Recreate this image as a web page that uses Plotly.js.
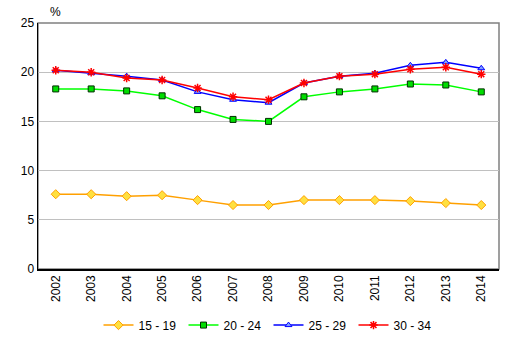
<!DOCTYPE html>
<html><head><meta charset="utf-8">
<script src="https://cdn.plot.ly/plotly-3.0.1.min.js"></script>
<style>html,body{margin:0;padding:0;background:#fff}#chart{width:513px;height:340px}</style>
</head><body><div id="chart"></div>
<script>
const years = ["2002","2003","2004","2005","2006","2007","2008","2009","2010","2011","2012","2013","2014"];
const s1519 = [7.6,7.6,7.4,7.5,7.0,6.5,6.5,7.0,7.0,7.0,6.9,6.7,6.5];
const s2024 = [18.3,18.3,18.1,17.6,16.2,15.2,15.0,17.5,18.0,18.3,18.8,18.7,18.0];
const s2529 = [20.2,19.9,19.6,19.2,18.0,17.2,16.9,18.9,19.6,19.9,20.7,21.0,20.4];
const s3034 = [20.2,20.0,19.4,19.2,18.4,17.5,17.2,18.9,19.6,19.8,20.3,20.5,19.8];
const names = ["15 - 19","20 - 24","25 - 29","30 - 34"];

const traces = [
  {x: years, y: s1519, name: names[0], mode: "lines+markers", line: {color: "#FFA000", width: 1.5},
   marker: {symbol: "diamond", size: 7, color: "#FFE040", line: {color: "#FFA000", width: 1}}},
  {x: years, y: s2024, name: names[1], mode: "lines+markers", line: {color: "#00FF00", width: 1.5},
   marker: {symbol: "square", size: 6, color: "#00DD00", line: {color: "#003000", width: 1}}},
  {x: years, y: s2529, name: names[2], mode: "lines+markers", line: {color: "#0000FF", width: 1.5},
   marker: {symbol: "triangle-up", size: 6, color: "#80A0FF", line: {color: "#0000FF", width: 1}}},
  {x: years, y: s3034, name: names[3], mode: "lines+markers", line: {color: "#FF0000", width: 1.5},
   marker: {symbol: "asterisk-open", size: 7, color: "#FF0000", line: {color: "#FF0000", width: 1.5}}}
];

const layout = {
  width: 513, height: 340,
  margin: {l: 38, r: 14, t: 23, b: 71, autoexpand: false},
  paper_bgcolor: "#fff", plot_bgcolor: "#fff",
  font: {family: "Liberation Sans, Arial, sans-serif", size: 12, color: "#000"},
  showlegend: true,
  legend: {orientation: "h", x: 0.5, xanchor: "center", y: -0.228, yanchor: "middle",
           font: {size: 12}, tracegroupgap: 0, itemwidth: 30, entrywidth: 40, entrywidthmode: "pixels"},
  xaxis: {type: "category", range: [-0.5, 12.5], showgrid: false, showline: true, linecolor: "#000", linewidth: 1.5,
          ticks: "", tickangle: -90, tickfont: {size: 12}, zeroline: false, automargin: false},
  yaxis: {range: [0, 25], dtick: 5, showgrid: true, gridcolor: "#c0c0c0", gridwidth: 1,
          showline: true, linecolor: "#000", linewidth: 1.5, ticks: "", zeroline: false, tickfont: {size: 12}, automargin: false},
  shapes: [{type: "rect", xref: "paper", yref: "paper", x0: 0, x1: 1, y0: 0, y1: 1,
            line: {color: "#808080", width: 1.5}, layer: "below"}],
  annotations: [{text: "%", xref: "paper", yref: "paper", x: 0.037, y: 1.0, yanchor: "bottom", xanchor: "center",
                 showarrow: false, font: {size: 12}, yshift: 2}]
};
Plotly.newPlot("chart", traces, layout, {displayModeBar: false, staticPlot: true});
</script></body></html>
